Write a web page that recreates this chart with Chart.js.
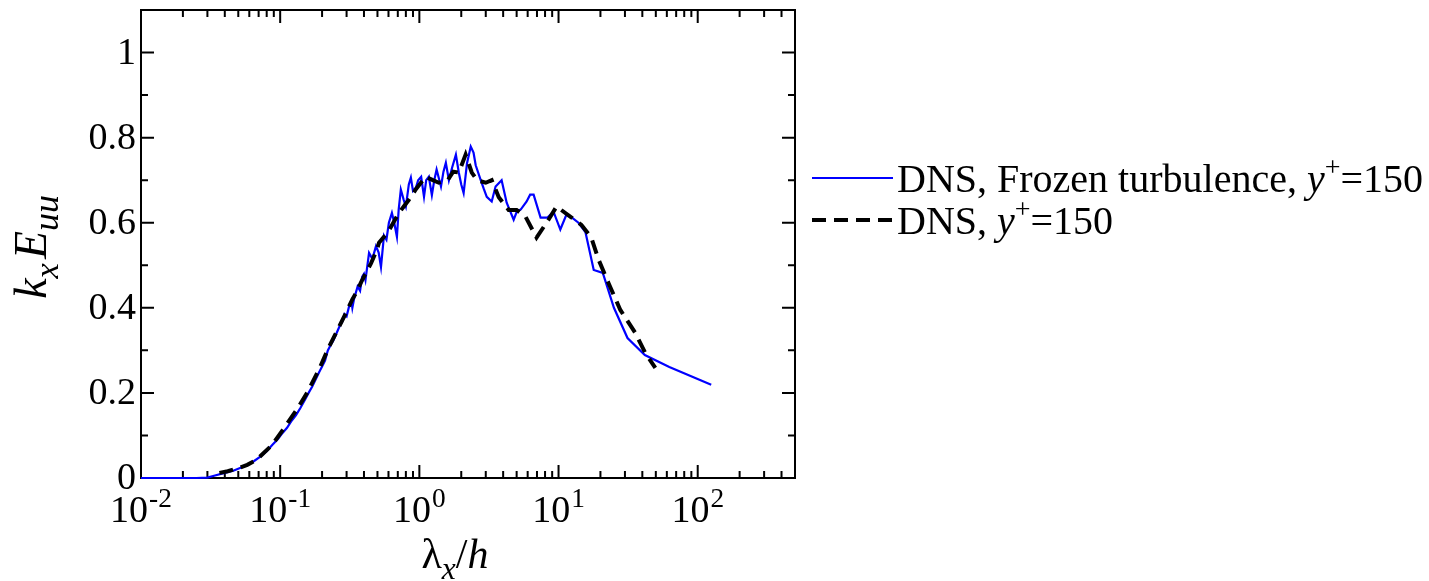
<!DOCTYPE html>
<html>
<head>
<meta charset="utf-8">
<script src="https://cdn.jsdelivr.net/npm/chart.js@4"></script>
<style>
  body { margin: 0; background: #fff; }
  #wrap { width: 1429px; height: 581px; position: relative; }
</style>
</head>
<body>
<div id="wrap"><canvas id="spec"></canvas></div>
<script>
// frozen turbulence spectrum (blue), lambda_x/h vs k_x E_uu
const frozenLambda = [0.01, 0.0125, 0.015, 0.02, 0.025, 0.03, 0.034, 0.04, 0.046, 0.052, 0.058, 0.065, 0.072, 0.08, 0.088, 0.096,
  0.104, 0.112, 0.12, 0.13, 0.14, 0.15, 0.16, 0.17, 0.18, 0.19, 0.2, 0.21, 0.22, 0.23, 0.24, 0.25, 0.26, 0.27, 0.28, 0.29, 0.3,
  0.312, 0.325, 0.33, 0.339, 0.36, 0.375, 0.388, 0.4, 0.41, 0.435, 0.46, 0.488, 0.51, 0.53, 0.557, 0.58, 0.604, 0.635, 0.66,
  0.69, 0.71, 0.736, 0.77, 0.8, 0.84, 0.869, 0.9, 0.944, 0.98, 1.03, 1.08, 1.12, 1.17, 1.23, 1.28, 1.33, 1.43, 1.49, 1.55,
  1.63, 1.72, 1.83, 1.92, 2.0, 2.08, 2.2, 2.34, 2.45, 2.54, 2.76, 2.9, 3.05, 3.31, 3.53, 3.9, 4.24, 4.76, 5.0, 5.35, 5.9,
  6.25, 6.62, 7.43, 8.33, 9.2, 10.3, 11.4, 12.5, 13.9, 15.6, 17.9, 20.8, 25, 31.3, 41.7, 62.5, 125];
const frozenEnergy = [0, 0, 0, 0, 0, 0.001, 0.006, 0.012, 0.017, 0.024, 0.031, 0.04, 0.05, 0.063, 0.078, 0.091,
  0.106, 0.118, 0.133, 0.148, 0.165, 0.183, 0.2, 0.215, 0.232, 0.248, 0.262, 0.276, 0.3, 0.312, 0.322, 0.335, 0.348, 0.36, 0.368, 0.385, 0.38,
  0.402, 0.415, 0.4, 0.42, 0.45, 0.44, 0.473, 0.48, 0.465, 0.529, 0.515, 0.545, 0.53, 0.496, 0.57, 0.56, 0.6, 0.623, 0.6,
  0.567, 0.63, 0.678, 0.655, 0.638, 0.69, 0.706, 0.675, 0.682, 0.7, 0.708, 0.661, 0.7, 0.708, 0.665, 0.7, 0.725, 0.685, 0.72, 0.741,
  0.7, 0.73, 0.76, 0.718, 0.69, 0.67, 0.74, 0.779, 0.765, 0.735, 0.7, 0.68, 0.661, 0.65, 0.685, 0.7, 0.647, 0.607, 0.625, 0.631, 0.65,
  0.666, 0.666, 0.612, 0.612, 0.626, 0.584, 0.619, 0.612, 0.6, 0.578, 0.489, 0.482, 0.4, 0.329, 0.289, 0.261, 0.219];

// DNS spectrum (black dashed)
const dnsLambda = [0.0366, 0.042, 0.0508, 0.058, 0.0673, 0.0877, 0.107, 0.13, 0.156, 0.19, 0.224, 0.26, 0.297, 0.33, 0.351,
  0.381, 0.413, 0.45, 0.495, 0.513, 0.6, 0.713, 0.78, 0.841, 0.95, 1.11, 1.25, 1.38, 1.6, 1.75, 1.92, 2.15, 2.38, 2.6, 3.0,
  3.31, 3.72, 4.38, 5.0, 5.8, 6.95, 8.47, 9.68, 12.2, 14.6, 17.2, 19.4, 22.8, 27.8, 35.6, 42.0, 49.6];
const dnsEnergy = [0.012, 0.016, 0.024, 0.031, 0.042, 0.078, 0.118, 0.158, 0.2, 0.255, 0.308, 0.35, 0.388, 0.42, 0.435,
  0.46, 0.482, 0.505, 0.536, 0.553, 0.58, 0.623, 0.64, 0.654, 0.68, 0.708, 0.7, 0.694, 0.7, 0.72, 0.718, 0.76, 0.718, 0.7, 0.694,
  0.7, 0.66, 0.63, 0.63, 0.614, 0.565, 0.607, 0.638, 0.614, 0.595, 0.565, 0.513, 0.459, 0.395, 0.341, 0.294, 0.259];

const yTickValues = [0, 0.2, 0.4, 0.6, 0.8, 1];
const yTickLabels = ['0', '0.2', '0.4', '0.6', '0.8', '1'];
const xDecades = [-2, -1, 0, 1, 2];
const legendLabels = ['DNS, Frozen turbulence, ', 'DNS, '];

const FONT = '"Liberation Serif", "Times New Roman", serif';

function runSize(r, size) {
    return (r.sub || r.sup) ? size * (r.scale || 0.72) : size;
}

function runsWidth(ctx, runs, size) {
    let w = 0;
    runs.forEach(r => {
        ctx.font = (r.it ? 'italic ' : '') + runSize(r, size) + 'px ' + FONT;
        w += ctx.measureText(r.t).width + (r.gap || 0);
    });
    return w;
}

// draws text pieces with sub/superscripts, x is left edge, y is baseline
function drawRuns(ctx, runs, x, y, size) {
    ctx.textBaseline = 'alphabetic';
    ctx.textAlign = 'left';
    runs.forEach(r => {
        ctx.font = (r.it ? 'italic ' : '') + runSize(r, size) + 'px ' + FONT;
        let dy = 0;
        if (r.sub) dy = size * 0.25;
        if (r.sup) dy = -size * 0.4;
        ctx.fillText(r.t, x, y + dy);
        x += ctx.measureText(r.t).width + (r.gap || 0);
    });
}

const framePlugin = {
    id: 'framePlugin',
    // frame and ticks go under the curves, like the original
    beforeDatasetsDraw(chart) {
        const ctx = chart.ctx;
        const a = chart.chartArea;
        const xs = chart.scales.x, ys = chart.scales.y;
        ctx.save();
        ctx.strokeStyle = '#000';
        ctx.lineWidth = 2;
        ctx.strokeRect(a.left, a.top, a.right - a.left, a.bottom - a.top);

        const MAJ = 13, MIN = 7;
        ctx.beginPath();
        for (let i = 0; i <= 11; i++) {
            const py = ys.getPixelForValue(i / 10);
            const len = (i % 2 === 0) ? MAJ : MIN;
            ctx.moveTo(a.left, py); ctx.lineTo(a.left + len, py);
            ctx.moveTo(a.right, py); ctx.lineTo(a.right - len, py);
        }
        xDecades.forEach(d => {
            for (let m = 1; m <= 9; m++) {
                const v = m * Math.pow(10, d);
                if (v > xs.max + 1e-9) continue;
                const px = xs.getPixelForValue(v);
                const len = m === 1 ? MAJ : MIN;
                ctx.moveTo(px, a.bottom); ctx.lineTo(px, a.bottom - len);
                ctx.moveTo(px, a.top); ctx.lineTo(px, a.top + len);
            }
        });
        ctx.stroke();
        ctx.restore();
    },
    afterDraw(chart) {
        const ctx = chart.ctx;
        const a = chart.chartArea;
        const xs = chart.scales.x, ys = chart.scales.y;
        ctx.save();
        ctx.fillStyle = '#000';

        // y tick labels
        ctx.font = '38px ' + FONT;
        ctx.textAlign = 'right';
        ctx.textBaseline = 'middle';
        yTickValues.forEach((v, i) => {
            ctx.fillText(yTickLabels[i], a.left - 5, ys.getPixelForValue(v) + 1);
        });

        // x tick labels 10^n
        xDecades.forEach(d => {
            const runs = [{ t: '10', gap: 1 }, { t: String(d), sup: true }];
            const w = runsWidth(ctx, runs, 38);
            const px = xs.getPixelForValue(Math.pow(10, d));
            drawRuns(ctx, runs, px - w / 2, a.bottom + 44, 38);
        });

        // x axis title
        const xt = [{ t: 'λ' }, { t: 'x', it: true, sub: true, scale: 0.75 }, { t: '/' }, { t: 'h', it: true }];
        const xw = runsWidth(ctx, xt, 42);
        drawRuns(ctx, xt, 455 - xw / 2, a.bottom + 90, 42);

        // y axis title, rotated
        const yt = [{ t: 'k', it: true }, { t: 'x', it: true, sub: true, scale: 0.75, gap: 4 },
                    { t: 'E', it: true }, { t: 'uu', it: true, sub: true, scale: 0.78 }];
        const yw = runsWidth(ctx, yt, 46);
        ctx.save();
        ctx.translate(46, 247);
        ctx.rotate(-Math.PI / 2);
        drawRuns(ctx, yt, -yw / 2, 0, 46);
        ctx.restore();

        // legend
        const lx0 = 812, lx1 = 893;
        const rows = [
            { y: 178, ds: chart.data.datasets[0] },
            { y: 220, ds: chart.data.datasets[1] }
        ];
        rows.forEach((row, i) => {
            ctx.save();
            ctx.strokeStyle = row.ds.borderColor;
            ctx.lineWidth = row.ds.borderWidth;
            ctx.setLineDash(row.ds.borderDash || []);
            ctx.beginPath();
            ctx.moveTo(lx0, row.y); ctx.lineTo(lx1, row.y);
            ctx.stroke();
            ctx.restore();
            const runs = [{ t: legendLabels[i] }, { t: 'y', it: true }, { t: '+', sup: true, scale: 0.7 }, { t: '=150' }];
            drawRuns(ctx, runs, lx1 + 4, row.y + 14, 40);
        });
        ctx.restore();
    }
};

const toPoints = (xv, yv) => xv.map((x, i) => ({ x, y: yv[i] }));

new Chart(document.getElementById('spec'), {
    type: 'line',
    data: {
        datasets: [
            {
                label: 'DNS, Frozen turbulence, y+=150',
                data: toPoints(frozenLambda, frozenEnergy),
                borderColor: '#0000ff',
                borderWidth: 2.2,
                pointRadius: 0,
                tension: 0,
                fill: false,
                clip: false,
                order: 1
            },
            {
                label: 'DNS, y+=150',
                data: toPoints(dnsLambda, dnsEnergy),
                borderColor: '#000',
                borderWidth: 4,
                borderDash: [14, 8],
                pointRadius: 0,
                tension: 0,
                fill: false,
                clip: false,
                order: 0
            }
        ]
    },
    options: {
        responsive: true,
        maintainAspectRatio: false,
        animation: false,
        layout: { padding: { left: 141, right: 634, top: 10, bottom: 103 } },
        scales: {
            x: { type: 'logarithmic', min: 0.01, max: 500, display: false },
            y: { type: 'linear', min: 0, max: 1.1, display: false }
        },
        plugins: {
            legend: { display: false },
            tooltip: { enabled: false }
        }
    },
    plugins: [framePlugin]
});
</script>
</body>
</html>
